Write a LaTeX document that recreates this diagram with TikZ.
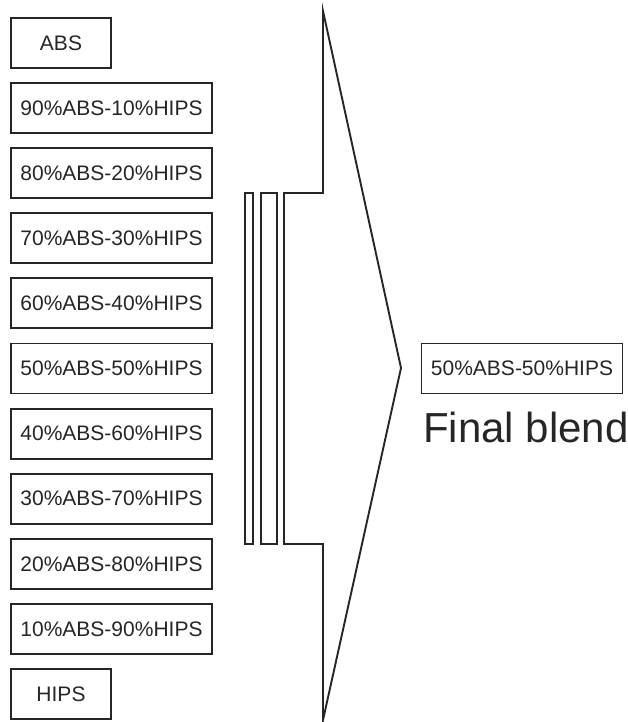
\documentclass[tikz,border=0pt]{standalone}
\usepackage{fontspec}
\setmainfont{Liberation Sans}
\begin{document}
\begin{tikzpicture}[x=1pt,y=-1pt,
  shape line/.style={line width=1.9pt,line join=miter,color=black!85},
  blendbox/.style={draw=black!85,line width=1.9pt,minimum height=50pt,inner sep=0pt,
    font=\fontsize{21}{24}\selectfont,text=black!85},
  shortbox/.style={blendbox,minimum width=100pt},
  longbox/.style={blendbox,minimum width=201pt}]
\useasboundingbox (0,0) rectangle (628,722);
\node[shortbox] (b0) at (61,43) {ABS};
\node[longbox] (b1) at (111.5,108.1) {90\%ABS-10\%HIPS};
\node[longbox] (b2) at (111.5,173.2) {80\%ABS-20\%HIPS};
\node[longbox] (b3) at (111.5,238.3) {70\%ABS-30\%HIPS};
\node[longbox] (b4) at (111.5,303.4) {60\%ABS-40\%HIPS};
\node[longbox] (b5) at (111.5,368.5) {50\%ABS-50\%HIPS};
\node[longbox] (b6) at (111.5,433.6) {40\%ABS-60\%HIPS};
\node[longbox] (b7) at (111.5,498.7) {30\%ABS-70\%HIPS};
\node[longbox] (b8) at (111.5,563.8) {20\%ABS-80\%HIPS};
\node[longbox] (b9) at (111.5,628.9) {10\%ABS-90\%HIPS};
\node[shortbox] (b10) at (61,694) {HIPS};
% arrow
\draw[shape line] (323,11) -- (323,193) -- (284,193) -- (284,544) -- (323,544) -- (323,720)
  -- (401,368) -- cycle;
\draw[shape line] (245,193) rectangle (253,544);
\draw[shape line] (261,193) rectangle (277,544);
\node[longbox] (final) at (522,368.5) {50\%ABS-50\%HIPS};
\node[anchor=base west,inner sep=0pt,font=\fontsize{42}{48}\selectfont,text=black!85] (lbl) at (423,442) {Final blend};
\end{tikzpicture}
\end{document}
